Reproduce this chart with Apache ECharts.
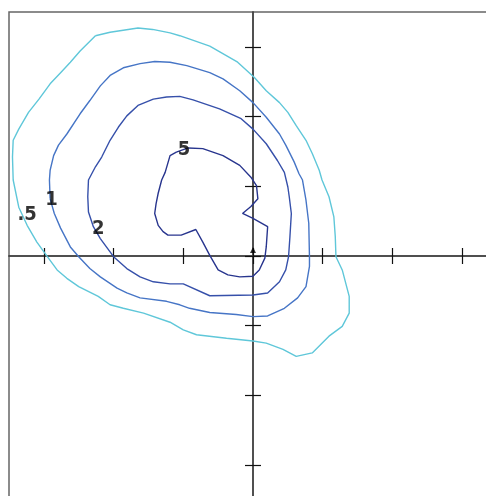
<!DOCTYPE html>
<html>
<head>
<meta charset="utf-8">
<script src="https://cdn.jsdelivr.net/npm/echarts@6/dist/echarts.min.js"></script>
<style>html,body{margin:0;padding:0;background:#fff;}#c{width:486px;height:496px;}</style>
</head>
<body>
<div id="c"></div>
<script>
// Tick values on both axes (no labels shown)
const tickValues = [-3, -2, -1, 0, 1, 2, 3];

// Contour levels (closed curves, [x, y] in axis units)
const level05 = [
  [-2.26,3.16],[-2.05,3.21],[-1.65,3.27],[-1.44,3.25],[-1.19,3.20],[-1.05,3.16],[-0.62,3.01],[-0.22,2.78],
  [0.02,2.56],[0.19,2.37],[0.38,2.20],[0.50,2.06],[0.62,1.87],[0.76,1.66],[0.85,1.47],[0.95,1.23],
  [0.99,1.09],[1.09,0.85],[1.16,0.56],[1.18,0.28],[1.19,-0.01],[1.28,-0.20],[1.38,-0.58],[1.38,-0.82],
  [1.28,-1.01],[1.09,-1.15],[0.85,-1.39],[0.62,-1.44],[0.43,-1.34],[0.19,-1.25],[0.00,-1.22],[-0.38,-1.18],
  [-0.81,-1.13],[-1.00,-1.06],[-1.19,-0.95],[-1.57,-0.82],[-1.86,-0.75],[-2.05,-0.70],[-2.22,-0.58],
  [-2.50,-0.44],[-2.67,-0.32],[-2.81,-0.20],[-2.95,-0.01],[-3.10,0.20],[-3.24,0.44],[-3.36,0.70],
  [-3.44,1.09],[-3.45,1.42],[-3.44,1.66],[-3.36,1.82],[-3.22,2.06],[-3.07,2.25],[-2.91,2.47],
  [-2.76,2.63],[-2.62,2.78],[-2.48,2.94],[-2.26,3.16]
];
const level1 = [
  [-2.91,0.82],[-2.92,1.09],[-2.91,1.23],[-2.86,1.44],[-2.79,1.59],[-2.67,1.75],[-2.48,2.04],[-2.34,2.23],
  [-2.19,2.44],[-2.05,2.59],[-1.86,2.70],[-1.62,2.76],[-1.41,2.79],[-1.19,2.78],[-0.95,2.73],[-0.62,2.63],
  [-0.43,2.54],[-0.19,2.37],[0.00,2.20],[0.19,1.99],[0.38,1.75],[0.47,1.59],[0.59,1.35],[0.66,1.18],
  [0.71,1.09],[0.76,0.80],[0.80,0.47],[0.81,-0.01],[0.81,-0.15],[0.76,-0.44],[0.64,-0.60],[0.45,-0.75],
  [0.21,-0.86],[0.00,-0.87],[-0.24,-0.84],[-0.62,-0.81],[-0.91,-0.75],[-1.05,-0.70],[-1.24,-0.65],
  [-1.62,-0.60],[-1.81,-0.53],[-1.95,-0.46],[-2.19,-0.30],[-2.34,-0.18],[-2.50,-0.01],[-2.62,0.13],
  [-2.76,0.40],[-2.85,0.61],[-2.91,0.82]
];
const level2 = [
  [-2.37,0.85],[-2.36,1.09],[-2.26,1.28],[-2.17,1.42],[-2.05,1.66],[-1.93,1.85],[-1.81,2.01],[-1.65,2.16],
  [-1.43,2.25],[-1.24,2.28],[-1.05,2.29],[-0.86,2.24],[-0.48,2.11],[-0.17,1.97],[0.00,1.82],[0.19,1.61],
  [0.35,1.37],[0.45,1.20],[0.50,0.99],[0.52,0.85],[0.55,0.61],[0.53,0.28],[0.51,-0.01],[0.47,-0.20],
  [0.38,-0.37],[0.21,-0.53],[0.00,-0.56],[-0.62,-0.57],[-1.00,-0.40],[-1.19,-0.40],[-1.43,-0.37],
  [-1.62,-0.30],[-1.81,-0.18],[-2.00,-0.01],[-2.19,0.25],[-2.29,0.42],[-2.36,0.63],[-2.37,0.85]
];
const level5 = [
  [-1.10,1.49],[-0.93,1.55],[-0.72,1.54],[-0.43,1.44],[-0.19,1.30],[-0.03,1.13],[0.05,1.01],[0.07,0.82],
  [-0.03,0.71],[-0.15,0.61],[0.00,0.54],[0.21,0.42],[0.19,0.13],[0.17,-0.03],[0.09,-0.20],[0.00,-0.29],
  [-0.19,-0.30],[-0.36,-0.27],[-0.50,-0.20],[-0.62,0.01],[-0.72,0.20],[-0.82,0.38],[-1.03,0.30],
  [-1.22,0.30],[-1.29,0.35],[-1.36,0.44],[-1.41,0.61],[-1.39,0.75],[-1.36,0.90],[-1.31,1.09],
  [-1.26,1.20],[-1.19,1.44],[-1.10,1.49]
];

// Contour labels
const labelNames = ['.5', '1', '2', '5'];
const labelPositions = [[-3.24,0.59],[-2.89,0.80],[-2.22,0.39],[-0.99,1.53]];

const levelColors = ['#5fc7d9', '#4675c6', '#3650aa', '#28358e'];
const levels = [level05, level1, level2, level5];

const chart = echarts.init(document.getElementById('c'), null, {renderer: 'canvas'});

function xAx(pos) {
  return {
    type: 'value', min: -3.5, max: 3.5, position: pos,
    axisLine: {show: true, onZero: true, lineStyle: {color: '#444', width: 1.5}},
    axisTick: {show: true, customValues: tickValues, length: 8, lineStyle: {color: '#111', width: 1.2}},
    axisLabel: {show: false}, splitLine: {show: false}
  };
}
function yAx(pos) {
  return {
    type: 'value', min: -3.5, max: 3.5, position: pos,
    axisLine: {show: true, onZero: true, lineStyle: {color: '#444', width: 1.5}},
    axisTick: {show: true, customValues: tickValues, length: 8, lineStyle: {color: '#111', width: 1.2}},
    axisLabel: {show: false}, splitLine: {show: false}
  };
}

const series = levels.map((pts, i) => ({
  type: 'line', data: pts, showSymbol: false, symbol: 'none', smooth: false,
  lineStyle: {color: levelColors[i], width: 1.4}, silent: true, z: 2
}));
series.push({
  type: 'scatter', symbolSize: 0,
  data: labelNames.map((n, i) => ({name: n, value: labelPositions[i]})),
  label: {show: true, position: 'inside', formatter: '{b}', color: '#000',
    fontFamily: '"DejaVu Sans Condensed", "Liberation Sans Narrow", sans-serif', fontWeight: 'bold', fontSize: 20},
  silent: true, z: 5
});
series.push({
  type: 'scatter', symbol: 'triangle', symbolSize: [6, 6], symbolOffset: [0, -6],
  data: [[0, 0]], itemStyle: {color: '#000'}, silent: true, z: 6
});

chart.setOption({
  animation: false,
  backgroundColor: '#fff',
  grid: {left: 9, top: 12, width: 488, height: 488, show: true, borderColor: '#666', borderWidth: 1.5,
    containLabel: false, outerBoundsMode: 'none'},
  xAxis: [xAx('bottom'), xAx('top')],
  yAxis: [yAx('left'), yAx('right')],
  series: series
});
</script>
</body>
</html>
